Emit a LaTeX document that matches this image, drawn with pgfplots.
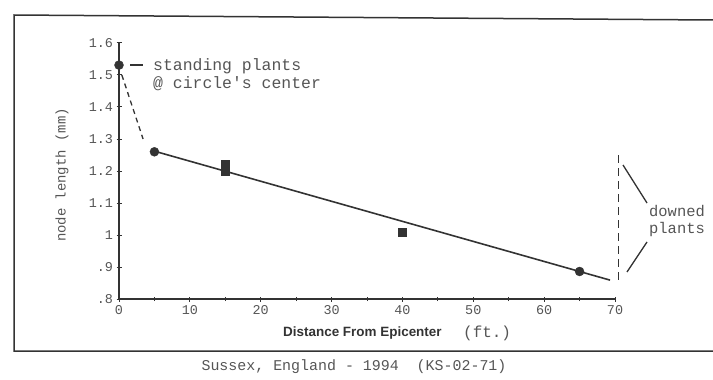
\documentclass[border=0pt]{standalone}
\usepackage{pgfplots}
\pgfplotsset{compat=1.18}
\usepackage{fontspec}
\setmainfont{Liberation Sans}
\setmonofont{Liberation Mono}
\newfontfamily\mono{Liberation Mono}
\definecolor{ink}{HTML}{333333}
\definecolor{txt}{HTML}{555555}
\begin{document}
\begin{tikzpicture}[x=1bp,y=1bp]
\useasboundingbox (0,0) rectangle (713,379);
\draw[ink, line width=1.5bp] (713,359) -- (14,364) -- (14,28) -- (713,28);
\begin{axis}[
  at={(119bp,80bp)}, anchor=south west, scale only axis,
  width=496bp, height=256bp,
  xmin=0, xmax=70, ymin=0.8, ymax=1.6,
  axis x line=bottom, axis y line=left,
  axis line style={ink, line width=1.6bp, -},
  xtick={0,10,20,30,40,50,60,70},
  xticklabels={0,10,20,30,40,50,60,70},
  minor xtick={5,15,25,35,45,55,65},
  ytick={0.8,0.9,1.0,1.1,1.2,1.3,1.4,1.5,1.6},
  yticklabels={.8,.9,1,1.1,1.2,1.3,1.4,1.5,1.6},
  tick align=center,
  tick style={ink, line width=1bp},
  major tick length=5bp, minor tick length=4bp,
  ticklabel style={font=\mono\fontsize{13.5}{13.5}\selectfont, text=txt},
  clip=false,
]
% regression line
\addplot[ink, line width=1.6bp, no markers] coordinates {(5,1.262) (69.3,0.859)};
% dashed connection from centre
\addplot[ink, line width=1.3bp, dash pattern=on 5bp off 4bp, no markers] coordinates {(0.4,1.50) (3.4,1.30)};
% vertical dashed line (downed plants)
\addplot[ink, line width=1.3bp, dash pattern=on 8bp off 5bp, no markers] coordinates {(70.5,1.25) (70.5,0.85)};
% data points
\addplot[only marks, mark=*, mark size=4.5bp, ink] coordinates {(0,1.531) (5,1.26) (65,0.886)};
\addplot[only marks, mark=square*, mark size=4bp, ink] coordinates {(15,1.222) (15,1.200) (40,1.010)};
\end{axis}
% annotations
\draw[ink, line width=1.2bp] (130,314) -- (143,314);
\node[anchor=west, text=txt, font=\mono\fontsize{16.5}{18}\selectfont, align=left, inner sep=0] at (153,304) {standing plants\\@ circle's center};
\draw[ink, line width=1.3bp] (623,214) -- (647,176);
\draw[ink, line width=1.3bp] (647,137) -- (627,107);
\node[text=txt, font=\mono\fontsize{15.5}{18}\selectfont, align=left, inner sep=0] at (677,158) {downed\\plants};
% axis labels
\node[rotate=90, text=txt, font=\mono\fontsize{14}{14}\selectfont] at (62,204) {node length (mm)};
\node[anchor=west, inner sep=0, text=ink, font=\bfseries\fontsize{13.5}{14}\selectfont] at (283,46) {Distance From Epicenter};
\node[anchor=west, inner sep=0, text=txt, font=\mono\fontsize{16}{16}\selectfont] at (463,46) {(ft.)};
% caption
\node[text=txt, font=\mono\fontsize{15}{15}\selectfont] at (354,12) {Sussex, England - 1994\ \ (KS-02-71)};
\end{tikzpicture}
\end{document}
